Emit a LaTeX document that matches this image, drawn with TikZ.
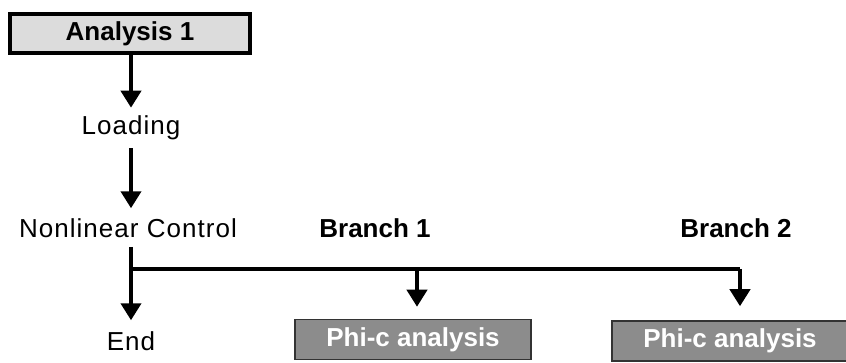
\documentclass[tikz,border=0pt]{standalone}
\usepackage{fontspec}
\setmainfont{Liberation Sans}
\usetikzlibrary{arrows.meta}
\definecolor{lightbox}{RGB}{220,220,220}
\definecolor{darkbox}{RGB}{140,140,140}
\tikzset{
  flow/.style={line width=4pt,-{Triangle[width=20pt,length=17pt]}},
  topbox/.style={draw,line width=4pt,fill=lightbox,minimum width=240pt,minimum height=39pt,font=\fontsize{26}{30}\selectfont\bfseries},
  phibox/.style={draw=black!80,line width=1.5pt,fill=darkbox,text=white,minimum width=236pt,minimum height=40pt,font=\fontsize{26}{30}\selectfont\bfseries},
  lbl/.style={inner sep=0pt,font=\fontsize{26}{30}\selectfont\addfontfeatures{LetterSpace=4}},
  blbl/.style={inner sep=0pt,font=\fontsize{26}{30}\selectfont\bfseries}
}
\begin{document}
\begin{tikzpicture}[x=1pt,y=-1pt]
			\useasboundingbox (0,0) rectangle (846,363);
			\node[topbox] (ana) at (130,33.5) {Analysis 1};
			\node[lbl] (load) at (131,128) {Loading};
			\node[lbl] (ctrl) at (128,228) {Nonlinear Control};
			\node[lbl] (end) at (131,341) {End};
			\node[blbl] (br1) at (375,228) {Branch 1};
			\node[blbl] (br2) at (736,228) {Branch 2};
			\node[phibox] (phi1) at (413,339.5) {Phi-c analysis};
			\node[phibox] (phi2) at (730,341) {Phi-c analysis};
			\coordinate (top) at (131,247);
			\coordinate (split) at (131,269);
			\coordinate (b1) at (417,269);
			\coordinate (b2) at (740,269);
			\draw[flow,shorten >=8pt] (ana.south -| load) -- (load.north);
			\draw[flow,shorten <=8pt,shorten >=10pt] (load.south) -- (ctrl.north -| load);
			\draw[flow,shorten >=11pt] (top) -- (end.north);
			\draw[line width=4pt] (split) -- (b2);
			\draw[flow,shorten >=12pt] (b1) -- (phi1.north -| b1);
			\draw[flow,shorten >=14pt] (b2) -- (phi2.north -| b2);
\end{tikzpicture}
\end{document}
